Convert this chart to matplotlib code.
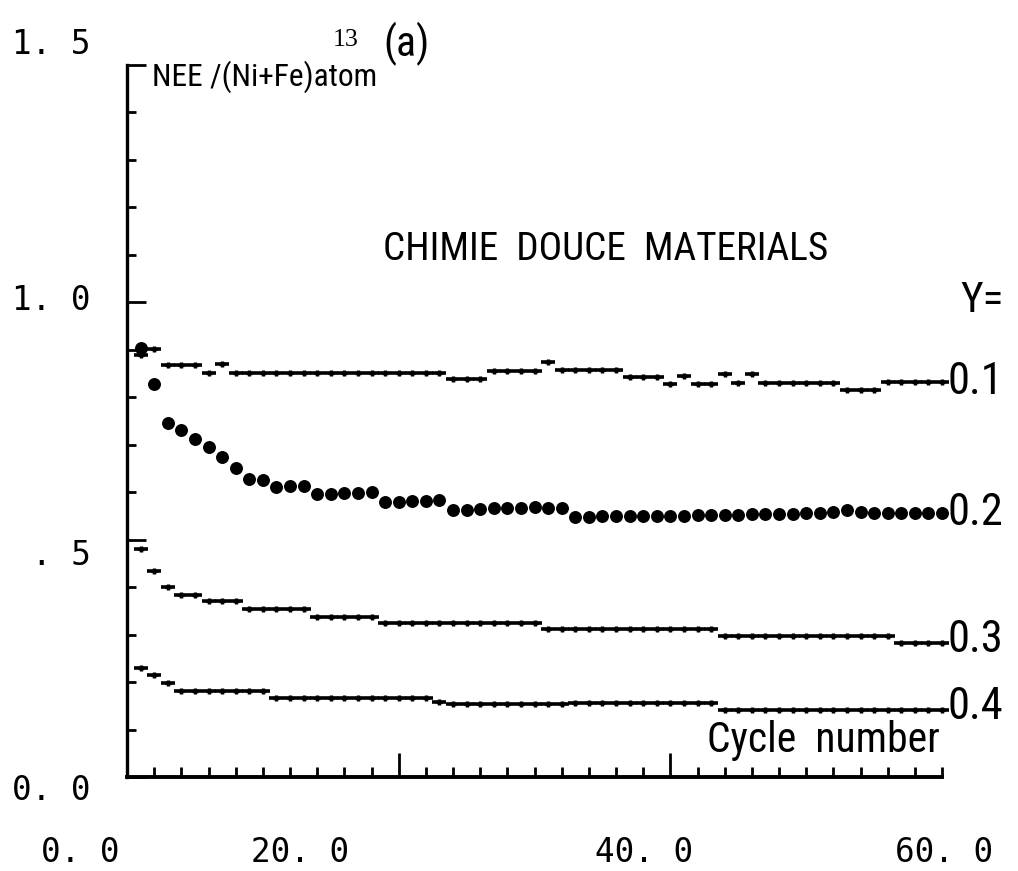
import numpy as np
import matplotlib
matplotlib.use("Agg")
import matplotlib.pyplot as plt
from matplotlib import font_manager as fm

# Cycle numbers and NEE per (Ni+Fe) atom for each composition Y
cycles = np.arange(1, 61)

nee_y01 = [0.888, 0.902, 0.869, 0.869, 0.869, 0.851, 0.870, 0.852, 0.852, 0.852,
           0.852, 0.852, 0.852, 0.852, 0.852, 0.852, 0.852, 0.852, 0.852, 0.852,
           0.852, 0.852, 0.852, 0.838, 0.838, 0.838, 0.856, 0.856, 0.856, 0.856,
           0.874, 0.857, 0.857, 0.857, 0.857, 0.857, 0.842, 0.842, 0.842, 0.827,
           0.845, 0.829, 0.829, 0.849, 0.830, 0.849, 0.830, 0.830, 0.830, 0.830,
           0.830, 0.830, 0.815, 0.815, 0.815, 0.832, 0.832, 0.832, 0.832, 0.832]

nee_y02 = [0.904, 0.829, 0.746, 0.730, 0.712, 0.696, 0.674, 0.652, 0.628, 0.626,
           0.612, 0.614, 0.614, 0.597, 0.597, 0.598, 0.599, 0.600, 0.580, 0.580,
           0.582, 0.582, 0.583, 0.563, 0.563, 0.565, 0.567, 0.567, 0.567, 0.569,
           0.567, 0.567, 0.548, 0.548, 0.549, 0.549, 0.549, 0.549, 0.549, 0.550,
           0.550, 0.552, 0.552, 0.553, 0.553, 0.554, 0.555, 0.555, 0.555, 0.556,
           0.557, 0.558, 0.563, 0.558, 0.556, 0.556, 0.556, 0.556, 0.556, 0.556]

nee_y03 = [0.480, 0.433, 0.401, 0.384, 0.384, 0.370, 0.370, 0.370, 0.354, 0.354,
           0.354, 0.354, 0.354, 0.338, 0.338, 0.338, 0.338, 0.338, 0.324, 0.324,
           0.324, 0.324, 0.324, 0.324, 0.324, 0.324, 0.324, 0.324, 0.324, 0.324,
           0.311, 0.311, 0.311, 0.311, 0.311, 0.311, 0.311, 0.311, 0.311, 0.311,
           0.311, 0.311, 0.311, 0.298, 0.298, 0.298, 0.298, 0.298, 0.298, 0.298,
           0.298, 0.298, 0.298, 0.298, 0.298, 0.298, 0.283, 0.283, 0.283, 0.283]

nee_y04 = [0.230, 0.215, 0.198, 0.182, 0.182, 0.182, 0.182, 0.182, 0.182, 0.182,
           0.166, 0.166, 0.166, 0.166, 0.166, 0.166, 0.166, 0.166, 0.166, 0.166,
           0.166, 0.166, 0.159, 0.154, 0.154, 0.154, 0.154, 0.154, 0.154, 0.154,
           0.154, 0.154, 0.155, 0.155, 0.155, 0.155, 0.155, 0.155, 0.155, 0.155,
           0.155, 0.155, 0.155, 0.141, 0.141, 0.141, 0.141, 0.141, 0.141, 0.141,
           0.141, 0.141, 0.141, 0.141, 0.141, 0.141, 0.141, 0.141, 0.141, 0.141]

series_labels = ["0.1", "0.2", "0.3", "0.4"]
y_tick_labels = ["0. 0", ". 5", "1. 0", "1. 5"]
x_tick_labels = ["0. 0", "20. 0", "40. 0", "60. 0"]

W, H = 1018, 871
fig = plt.figure(figsize=(W / 100, H / 100), dpi=100)
ax = fig.add_axes([127 / W, 1 - 777 / H, (942 - 127) / W, (777 - 65) / H])
ax.set_xlim(0, 60)
ax.set_ylim(0, 1.5)


def pick_narrow_font():
    names = {f.name for f in fm.fontManager.ttflist}
    for cand in ("Liberation Sans Narrow", "Arial Narrow", "Roboto Condensed",
                 "Open Sans Condensed", "DejaVu Sans Condensed"):
        if cand in names:
            return cand, "normal"
    for f in fm.fontManager.ttflist:
        if f.stretch in ("condensed", "semi-condensed", "extra-condensed") \
                and "Mono" not in f.name and "Serif" not in f.name:
            return f.name, f.stretch
    return "Liberation Sans", "normal"


narrow_name, narrow_stretch = pick_narrow_font()
narrow = [narrow_name, "Liberation Sans", "DejaVu Sans"]
mono = ["DejaVu Sans Mono"]
renderer = fig.canvas.get_renderer()


def px(x, y):
    return x / W, 1 - y / H


def fitted_text(x, y, s, width_px, max_size, **kw):
    """Place text and shrink it until it spans width_px pixels."""
    t = fig.text(*px(x, y), s, fontsize=max_size, **kw)
    w = t.get_window_extent(renderer).width
    if w > width_px:
        t.set_fontsize(max_size * width_px / w)
    return t


# "+" series: a short horizontal dash with a small vertical tick
def dash_series(vals):
    ax.plot(cycles, vals, ls="none", marker="_", ms=9.9, mew=2.6,
            color="black", clip_on=False)
    ax.plot(cycles, vals, ls="none", marker="+", ms=5.0, mew=2.4,
            color="black", clip_on=False)


dash_series(nee_y01)
ax.plot(cycles, nee_y02, ls="none", marker="o", ms=8.3, color="black",
        mec="black", clip_on=False)
dash_series(nee_y03)
dash_series(nee_y04)

# Spines and ticks
for s in ("top", "right"):
    ax.spines[s].set_visible(False)
ax.spines["left"].set_linewidth(2.4)
ax.spines["bottom"].set_linewidth(2.8)

ax.set_yticks([0.0, 0.5, 1.0, 1.5])
ax.set_yticks(np.arange(0, 1.51, 0.1), minor=True)
ax.set_xticks([20, 40])
ax.set_xticks(np.arange(0, 60.1, 2), minor=True)
ax.tick_params(axis="both", which="both", direction="in", width=2.0,
               labelleft=False, labelbottom=False, color="black")
ax.tick_params(axis="y", which="major", length=14)
ax.tick_params(axis="y", which="minor", length=6.5)
ax.tick_params(axis="x", which="major", length=17)
ax.tick_params(axis="x", which="minor", length=7)

# Tick labels in plotter style
for lab, y in zip(y_tick_labels, [790, 555, 300, 45]):
    fig.text(*px(91, y), lab, family=mono, fontsize=23.5, ha="right",
             va="center")
for lab, x in zip(x_tick_labels, [80, 300, 644, 944]):
    fig.text(*px(x, 852), lab, family=mono, fontsize=23.5, ha="center",
             va="center")

# Annotations
common = dict(family=narrow, fontstretch=narrow_stretch)
fitted_text(152, 77, "NEE /(Ni+Fe)atom", 226, 32, ha="left", va="center",
            **common)
fitted_text(346, 40, "13", 26, 19, ha="center", va="center",
            family=["Liberation Serif", "DejaVu Serif"])
fig.text(*px(407, 44), "(a)", fontsize=30, ha="center", va="center",
         **common)
fitted_text(606, 250, "CHIMIE  DOUCE  MATERIALS", 446, 34, ha="center",
            va="center", **common)
fig.text(*px(982, 300), "Y=", fontsize=31, ha="center", va="center",
         **common)
for lab, y in zip(series_labels, [382, 513, 640, 707]):
    fig.text(*px(947, y), lab, fontsize=32, ha="left", va="center",
             **common)
fitted_text(940, 740, "Cycle  number", 233, 32, ha="right", va="center",
            **common)

fig.savefig("out.png", dpi=100, facecolor="white")
